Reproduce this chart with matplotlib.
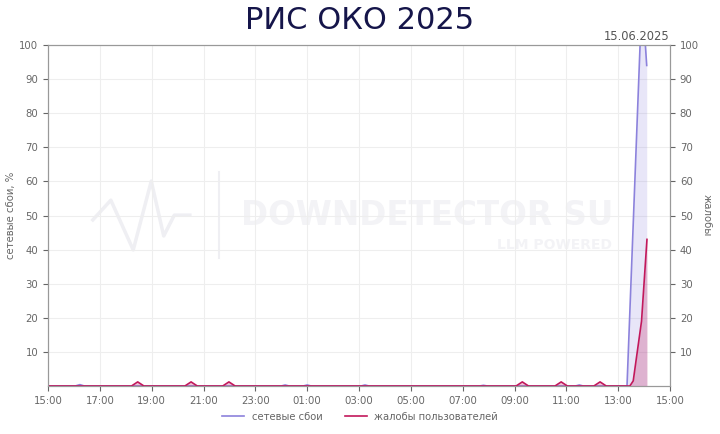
import matplotlib.pyplot as plt
import numpy as np

# часы от 15:00 14.06 до 15:00 15.06
hour_labels = ["15:00", "17:00", "19:00", "21:00", "23:00", "01:00", "03:00",
               "05:00", "07:00", "09:00", "11:00", "13:00", "15:00"]

# сетевые сбои, %
sboi_t = [0, 1.05, 1.23, 1.4, 9.0, 9.15, 9.3, 9.85, 10.0, 10.15, 12.08, 12.23,
          12.38, 16.65, 16.8, 16.95, 20.35, 20.5, 20.65, 22.34, 22.92, 23.1]
sboi_v = [0, 0, 0.4, 0, 0, 0.3, 0, 0, 0.3, 0, 0, 0.3,
          0, 0, 0.2, 0, 0, 0.3, 0, 0, 115, 94]

# жалобы пользователей
zhal_t = [0, 3.22, 3.46, 3.7, 5.28, 5.52, 5.76, 6.74, 6.98, 7.22, 18.06, 18.3,
          18.54, 19.56, 19.8, 20.04, 21.06, 21.3, 21.54, 22.45, 22.58, 22.9, 23.11]
zhal_v = [0, 0, 1.2, 0, 0, 1.2, 0, 0, 1.2, 0, 0, 1.2,
          0, 0, 1.2, 0, 0, 1.2, 0, 0, 1.5, 19, 43]

c_sboi = "#8c82dc"
c_zhal = "#c2185b"
grey = "#666666"

fig = plt.figure(figsize=(7.2, 4.34), dpi=100)
ax = fig.add_axes([0.0667, 0.1106, 0.8639, 0.7857])
ax2 = ax.twinx()

for a in (ax, ax2):
    a.set_ylim(0, 100)
    a.set_yticks(range(10, 101, 10))
    a.tick_params(colors=grey, labelsize=7.3, length=3.5)
    for s in a.spines.values():
        s.set_color("#999999")
ax.set_xlim(0, 24)
ax.set_xticks(range(0, 25, 2))
ax.set_xticklabels(hour_labels)
ax.grid(True, color="#eeeeee", lw=0.8)
ax.set_axisbelow(True)

# водяной знак
wm = "#f3f3f6"
ax.text(0.61, 0.50, "DOWNDETECTOR SU", transform=ax.transAxes, ha="center",
        va="center", fontsize=23.5, fontweight="bold", color=wm, zorder=0.5)
ax.text(0.907, 0.413, "LLM POWERED", transform=ax.transAxes, ha="right",
        va="center", fontsize=10, fontweight="bold", color=wm, zorder=0.5)
px = [0.072, 0.101, 0.137, 0.166, 0.186, 0.203, 0.228]
py = [0.487, 0.545, 0.399, 0.601, 0.44, 0.501, 0.501]
ax.plot(px, py, transform=ax.transAxes, color="#efeff3", lw=2.5, zorder=0.5)
ax.plot([0.275, 0.275], [0.375, 0.628], transform=ax.transAxes, color="#efeff3",
        lw=1.5, zorder=0.5)

ax.fill_between(sboi_t, sboi_v, color=c_sboi, alpha=0.2, lw=0)
ax.plot(sboi_t, sboi_v, color=c_sboi, lw=1.2, label="сетевые сбои")
ax2.fill_between(zhal_t, zhal_v, color=c_zhal, alpha=0.25, lw=0)
ax2.plot(zhal_t, zhal_v, color=c_zhal, lw=1.2, label="жалобы пользователей")

ax.set_ylabel("сетевые сбои, %", color=grey, fontsize=7.3, labelpad=2.5)
ax2.set_ylabel("жалобы", color=grey, fontsize=7.3, rotation=270, labelpad=9)

fig.text(0.5, 0.953, "РИС ОКО 2025", ha="center", va="center", fontsize=22,
         color="#15154a")
ax.text(0.999, 1.006, "15.06.2025", transform=ax.transAxes, ha="right",
        va="bottom", fontsize=8.3, color="#555555")

h1, l1 = ax.get_legend_handles_labels()
h2, l2 = ax2.get_legend_handles_labels()
fig.legend(h1 + h2, l1 + l2, loc="center", bbox_to_anchor=(0.5, 0.04), ncol=2,
           frameon=False, fontsize=7.2, labelcolor=grey, columnspacing=2.2,
           handlelength=2.2)

fig.savefig("out.png", dpi=100)
